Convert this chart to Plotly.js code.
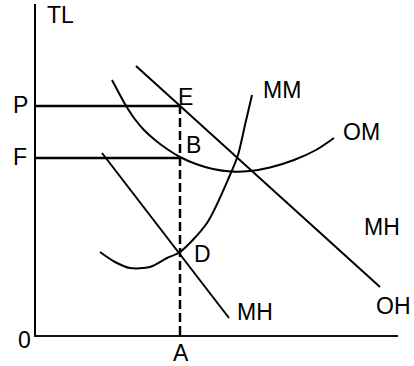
<!DOCTYPE html>
<html>
<head>
<meta charset="utf-8">
<script src="https://cdn.plot.ly/plotly-3.0.1.min.js"></script>
<style>html,body{margin:0;padding:0;background:#fff;}#chart{width:414px;height:366px;}</style>
</head>
<body>
<div id="chart"></div>
<script>
// Demand curve (OH)
const demandQ = [100, 344];
const demandP = [269, 48];
// Marginal revenue (MH)
const mrQ = [66, 193];
const mrP = [182, 17];
// Average cost (OM)
const acQ = [76, 89, 98, 108, 119, 131, 144, 160, 177, 195, 214, 234, 258, 280, 298];
const acP = [255, 231, 217, 205, 195, 186, 178, 171, 166, 163.5, 164, 167.5, 175, 185, 197];
// Marginal cost (MM)
const mcQ = [64, 79, 94, 114, 131, 144, 171, 194, 202, 209, 216];
const mcP = [83, 73, 67, 68, 77, 83, 112, 160, 180, 210, 240];
// Equilibrium values
const qA = 144;      // quantity A
const priceP = 229;  // price P
const costF = 177;   // cost F

const X_MAX = 362, Y_MAX = 331;

const lineStyle = {color: '#000', width: 2};
const traces = [
  {x: demandQ, y: demandP, mode: 'lines', line: lineStyle},
  {x: mrQ, y: mrP, mode: 'lines', line: lineStyle},
  {x: acQ, y: acP, mode: 'lines', line: Object.assign({shape: 'spline', smoothing: 0.8}, lineStyle)},
  {x: mcQ, y: mcP, mode: 'lines', line: Object.assign({shape: 'spline', smoothing: 0.8}, lineStyle)},
  {x: [0, qA], y: [priceP, priceP], mode: 'lines', line: {color: '#000', width: 2.5}},
  {x: [0, qA], y: [costF, costF], mode: 'lines', line: {color: '#000', width: 2.5}},
  {x: [qA, qA], y: [0, priceP], mode: 'lines', line: {color: '#000', width: 2.5, dash: '9px,4px'}}
];

const f = {family: 'Liberation Sans, Arial, sans-serif', size: 23, color: '#000'};
function lab(text, q, p) {
  return {text: text, x: q / X_MAX, y: p / Y_MAX, xref: 'paper', yref: 'paper', showarrow: false,
          font: f, xanchor: 'center', yanchor: 'middle'};
}
const annotations = [
  lab('TL', 24, 320),
  lab('P', -16, 230),
  lab('F', -16, 178),
  lab('0', -12, -5),
  lab('A', 145, -18),
  lab('E', 149, 238),
  lab('B', 157, 190),
  lab('D', 166, 81),
  lab('MM', 246, 245),
  lab('OM', 325, 203),
  lab('MH', 346, 108),
  lab('OH', 357, 29),
  lab('MH', 219, 23)
];

const layout = {
  width: 414, height: 366,
  margin: {l: 36, r: 16, t: 4, b: 31},
  paper_bgcolor: '#fff', plot_bgcolor: '#fff',
  showlegend: false,
  xaxis: {range: [0, X_MAX], showgrid: false, zeroline: false, showticklabels: false, ticks: '',
          showline: true, linecolor: '#111', linewidth: 2, fixedrange: true},
  yaxis: {range: [0, Y_MAX], showgrid: false, zeroline: false, showticklabels: false, ticks: '',
          showline: true, linecolor: '#000', linewidth: 2, fixedrange: true},
  annotations: annotations
};
Plotly.newPlot('chart', traces, layout, {staticPlot: true, displayModeBar: false});
</script>
</body>
</html>
